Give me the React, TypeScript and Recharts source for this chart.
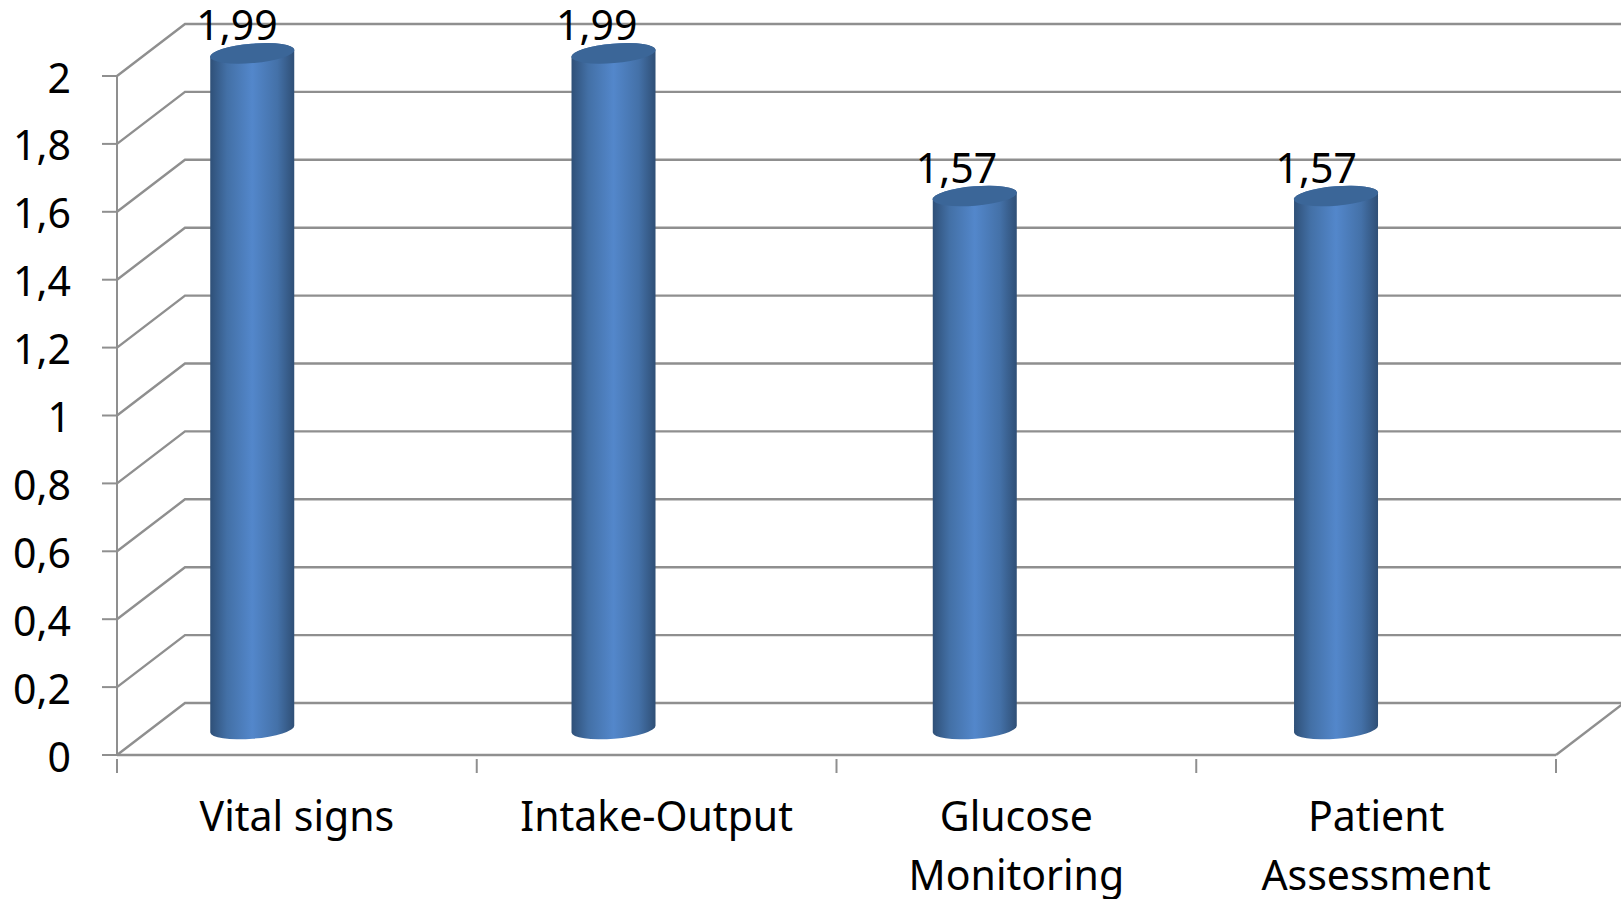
import React from 'react';
import { BarChart, Bar, XAxis, YAxis, CartesianGrid, LabelList } from 'recharts';

const categories = ['Vital signs', 'Intake-Output', 'Glucose Monitoring', 'Patient Assessment'];
const scores = [1.99, 1.99, 1.57, 1.57];
const yTicks = [0, 0.2, 0.4, 0.6, 0.8, 1, 1.2, 1.4, 1.6, 1.8, 2];

const rows = categories.map((name, i) => ({ name, score: scores[i] }));

const FONT = '"Noto Sans", sans-serif';
const FONT_SIZE = 41;
const AXIS = '#8f8f8f';
const DEPTH_X = 68;
const DEPTH_Y = 52;
const BAR_W = 84;
const RX = BAR_W / 2;
const RY = 9.7;
const TILT = -4.8;
const TILT_DY = 3.5;
const MID_DEPTH = 26;
const TICK_LEN = 14;

const comma = (v: number) => String(v).replace('.', ',');
const barCentre = (x: number, width: number) => (x + width / 2) * 1.0042 - 46;

const WallLine = (p: any) => {
  const { x1, y1, x2, y, height } = p;
  const isFloor = Math.abs(y1 - (y + height)) < 1;
  return (
    <g>
      <polyline
        points={`${x1},${y1} ${x1 + DEPTH_X},${y1 - DEPTH_Y} ${x2 + DEPTH_X},${y1 - DEPTH_Y}`}
        fill="none"
        stroke={AXIS}
        strokeWidth={2.4}
      />
      {isFloor ? (
        <line x1={x2} y1={y1} x2={x2 + DEPTH_X} y2={y1 - DEPTH_Y} stroke={AXIS} strokeWidth={2.4} />
      ) : null}
    </g>
  );
};

const Cylinder = (p: any) => {
  const { x, y, width, height } = p;
  const cx = barCentre(x, width);
  const top = y - MID_DEPTH;
  const bottom = y + height - MID_DEPTH;
  const l = cx - RX;
  const r = cx + RX;
  const d =
    `M${l},${top + TILT_DY} L${l},${bottom + TILT_DY} ` +
    `A${RX},${RY} ${TILT} 0 0 ${r},${bottom - TILT_DY} L${r},${top - TILT_DY} ` +
    `A${RX},${RY} ${TILT} 0 0 ${l},${top + TILT_DY} Z`;
  return (
    <g>
      <path d={d} fill="url(#cyl)" />
      <ellipse cx={cx} cy={top} rx={RX + 0.3} ry={RY} fill="#3b6698" transform={`rotate(${TILT} ${cx} ${top})`} />
    </g>
  );
};

const ValueLabel = (p: any) => {
  const { x, y, width, value } = p;
  return (
    <text
      x={x + width / 2 - 60}
      y={y - MID_DEPTH - 13}
      textAnchor="middle"
      fontFamily={FONT}
      fontSize={FONT_SIZE}
      fill="#000"
    >
      {comma(value)}
    </text>
  );
};

const XTick = (p: any) => {
  const { x, y, payload, width, index, visibleTicksCount } = p;
  const band = width / visibleTicksCount;
  const text: string = payload.value;
  const lines = text.length > 13 ? text.split(' ') : [text];
  const edge = (ex: number) => (
    <line x1={ex} x2={ex} y1={y - 4} y2={y - 4 + TICK_LEN} stroke={AXIS} strokeWidth={2} />
  );
  return (
    <g>
      {edge(x - band / 2)}
      {index === visibleTicksCount - 1 ? edge(x + band / 2) : null}
      <text textAnchor="middle" fontFamily={FONT} fontSize={FONT_SIZE} fill="#000">
        {lines.map((ln, i) => (
          <tspan key={ln} x={x} y={831 + i * 59}>
            {ln}
          </tspan>
        ))}
      </text>
    </g>
  );
};

const YTick = (p: any) => {
  const { y, payload } = p;
  return (
    <text x={71} y={y + 16.5} textAnchor="end" fontFamily={FONT} fontSize={FONT_SIZE} fill="#000">
      {comma(payload.value)}
    </text>
  );
};

export default function App() {
  return (
    <div style={{ position: 'absolute', left: 0, top: 0, width: 1621, height: 899, background: '#fff', overflow: 'hidden' }}>
      <BarChart width={1621} height={899} data={rows} margin={{ top: 76, right: 65, bottom: 0, left: 0 }} barSize={BAR_W}>
        <defs>
          <linearGradient id="cyl" x1="0" y1="0" x2="1" y2="0">
            <stop offset="0" stopColor="#2f5078" />
            <stop offset="0.2" stopColor="#4370a6" />
            <stop offset="0.5" stopColor="#5387cb" />
            <stop offset="0.8" stopColor="#4471a8" />
            <stop offset="1" stopColor="#2f4f76" />
          </linearGradient>
        </defs>
        <CartesianGrid vertical={false} horizontal={(props: any) => <WallLine key={props.key ?? props.y1} {...props} />} />
        <XAxis
          dataKey="name"
          interval={0}
          axisLine={{ stroke: AXIS, strokeWidth: 2.4 }}
          tickLine={false}
          tick={<XTick />}
          height={144}
        />
        <YAxis
          domain={[0, 2]}
          ticks={yTicks}
          width={117}
          interval={0}
          tick={<YTick />}
          tickSize={15}
          axisLine={{ stroke: AXIS, strokeWidth: 2 }}
          tickLine={{ stroke: AXIS, strokeWidth: 2 }}
        />
        <Bar dataKey="score" isAnimationActive={false} shape={<Cylinder />}>
          <LabelList dataKey="score" content={<ValueLabel />} />
        </Bar>
      </BarChart>
    </div>
  );
}
